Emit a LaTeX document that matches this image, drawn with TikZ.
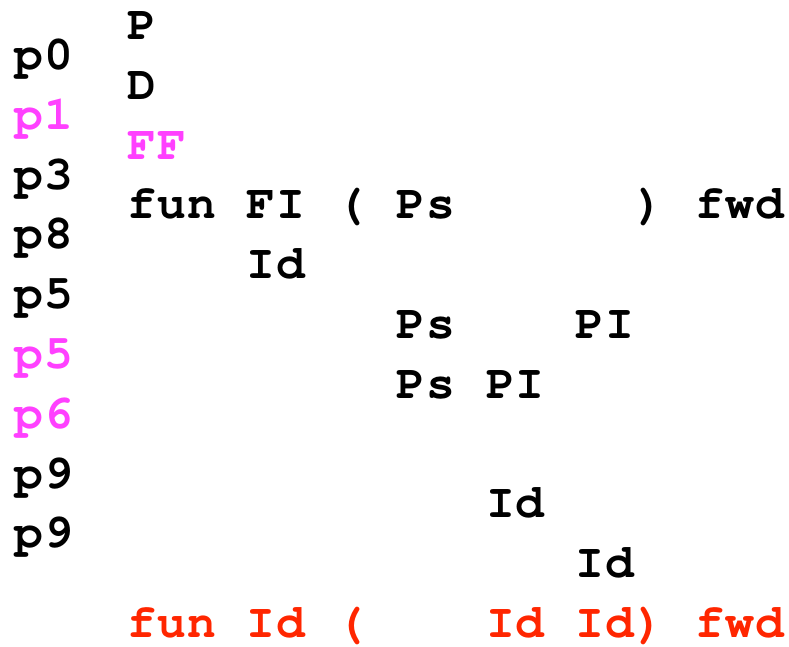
\documentclass[tikz,border=0pt]{standalone}
\usepackage{fontspec}
\newfontfamily\codefont[LetterSpace=2.3]{TeX Gyre Cursor}
\definecolor{hotpink}{HTML}{FF40FF}
\definecolor{outred}{HTML}{FF2600}
\tikzset{tok/.style={anchor=base west, inner sep=0pt, font=\codefont\bfseries\fontsize{48}{50}\selectfont}}

\begin{document}
\begin{tikzpicture}[x=1pt,y=1pt]

\newcommand\X{29.9pt}
\newcommand\Y{-59.8pt}

\newcommand\XO{127pt}
\newcommand\YO{-39.5pt}
\newcommand\XP{14pt} %% path labels

\useasboundingbox (0,0) rectangle (789,-646); %% page

%% path column
\node[tok] (pa) at (\XP, \YO+0.5*\Y) {p0};
\node[tok, hotpink] (pb) at (\XP, \YO+1.5*\Y) {p1};
\node[tok] (pc) at (\XP, \YO+2.5*\Y) {p3};
\node[tok] (pd) at (\XP, \YO+3.5*\Y) {p8};
\node[tok] (pe) at (\XP, \YO+4.5*\Y) {p5};
\node[tok, hotpink] (pf) at (\XP, \YO+5.5*\Y) {p5};
\node[tok, hotpink] (pg) at (\XP, \YO+6.5*\Y) {p6};
\node[tok] (ph) at (\XP, \YO+7.5*\Y) {p9};
\node[tok] (pi) at (\XP, \YO+8.5*\Y) {p9};

%% stack
\node[tok] (P) at (\XO+0*\X, \YO+0*\Y) {P};
\node[tok] (D) at (\XO+0*\X, \YO+1*\Y) {D};
\node[tok, hotpink] (FF) at (\XO+0*\X, \YO+2*\Y) {FF};

%%
\node[tok] (fun) at (\XO+0*\X, \YO+3*\Y) {fun};
\node[tok] (FI) at (\XO+4*\X, \YO+3*\Y) {FI};
\node[tok] (lpar) at (\XO+7*\X, \YO+3*\Y) {(};
\node[tok] (Ps) at (\XO+9*\X, \YO+3*\Y) {Ps};
\node[tok] (rpar) at (\XO+17*\X, \YO+3*\Y) {)};
\node[tok] (fwd) at (\XO+19*\X, \YO+3*\Y) {fwd};

%%
\node[tok] (IdA) at (\XO+4*\X, \YO+4*\Y) {Id};

\node[tok] (PsA) at (\XO+9*\X, \YO+5*\Y) {Ps};
\node[tok] (PIA) at (\XO+15*\X, \YO+5*\Y) {PI};

\node[tok] (PsB) at (\XO+9*\X, \YO+6*\Y) {Ps};
\node[tok] (PIB) at (\XO+12*\X, \YO+6*\Y) {PI};

\node[tok] (IdB) at (\XO+12*\X, \YO+8*\Y) {Id};
\node[tok] (IdC) at (\XO+15*\X, \YO+9*\Y) {Id};

%% result
\node[tok, outred] (rfun) at (\XO+0*\X, \YO+10*\Y) {fun};
\node[tok, outred] (rId) at (\XO+4*\X, \YO+10*\Y) {Id};
\node[tok, outred] (rlpar) at (\XO+7*\X, \YO+10*\Y) {(};
\node[tok, outred] (rIdA) at (\XO+12*\X, \YO+10*\Y) {Id};
\node[tok, outred] (rIdB) at (\XO+15*\X, \YO+10*\Y) {Id)};
\node[tok, outred] (rfwd) at (\XO+19*\X, \YO+10*\Y) {fwd};

\end{tikzpicture}
\end{document}
